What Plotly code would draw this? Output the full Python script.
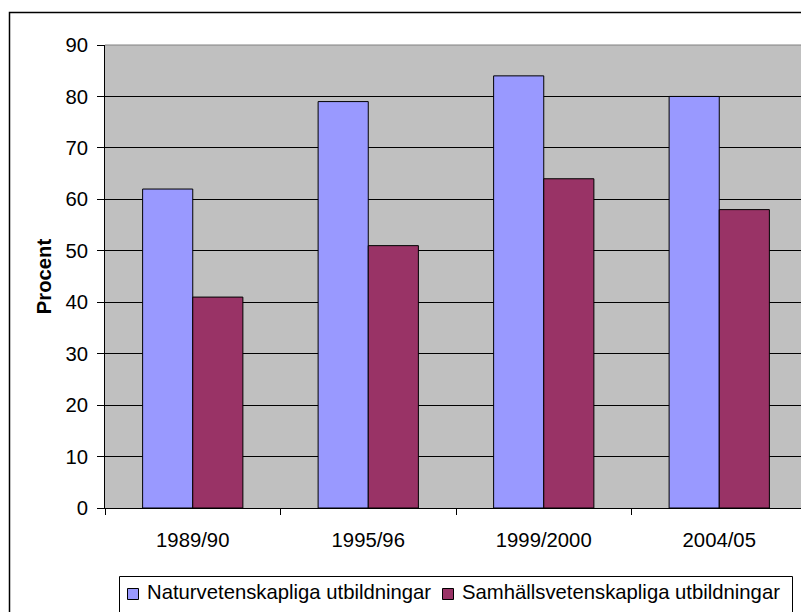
import plotly.graph_objects as go

categories = ["1989/90", "1995/96", "1999/2000", "2004/05"]
natur = [62, 79, 84, 80]
samhall = [41, 51, 64, 58]
series_names = ["Naturvetenskapliga utbildningar", "Samhällsvetenskapliga utbildningar"]
series_colors = ["#9999FF", "#993366"]
y_ticks = list(range(0, 91, 10))

FONT = "Liberation Sans, Arial, sans-serif"
FS = 20.3
OFF = 8  # page body margin
W, H = 809 - OFF, 612 - OFF
# plot area in page pixels: x 105..807, y 45..508
L, T = 105 - OFF, 45 - OFF
R = W - (807 - OFF)
B = H - (508 - OFF)
pw, ph = W - L - R, H - T - B

def px_x(x):  # page pixel -> paper
    return (x - OFF - L) / pw

def px_y(y):
    return (H - B - (y - OFF)) / ph

fig = go.Figure()
fig.add_trace(go.Bar(x=categories, y=natur, name=series_names[0],
                     marker=dict(color=series_colors[0], line=dict(color="black", width=1))))
fig.add_trace(go.Bar(x=categories, y=samhall, name=series_names[1],
                     marker=dict(color=series_colors[1], line=dict(color="black", width=1))))

shapes = [
    dict(type="line", xref="paper", yref="paper", x0=0, x1=1, y0=1, y1=1,
         line=dict(color="#808080", width=1)),
    dict(type="line", xref="paper", yref="paper", x0=1, x1=1, y0=0, y1=1,
         line=dict(color="#808080", width=1)),
    # outer chart frame (right/bottom edges fall outside the image)
    dict(type="rect", xref="paper", yref="paper",
         x0=px_x(9.5), x1=px_x(830), y0=px_y(640), y1=px_y(12.5),
         line=dict(color="black", width=1.5), layer="below"),
    # legend box
    dict(type="rect", xref="paper", yref="paper",
         x0=px_x(119.5), x1=px_x(792.5), y0=px_y(640), y1=px_y(576.5),
         line=dict(color="black", width=1), fillcolor="white", layer="below"),
]
annotations = []
sym_x = [127.5, 442.5]
txt_x = [145, 460]
for i in range(2):
    shapes.append(dict(type="rect", xref="paper", yref="paper",
                       x0=px_x(sym_x[i]), x1=px_x(sym_x[i] + 11),
                       y0=px_y(599.5), y1=px_y(588.5),
                       line=dict(color="black", width=1), fillcolor=series_colors[i]))
    annotations.append(dict(text=series_names[i], xref="paper", yref="paper",
                            x=px_x(txt_x[i]), y=px_y(592), xanchor="left", yanchor="middle",
                            showarrow=False, font=dict(family=FONT, size=FS, color="black")))

fig.update_layout(
    width=W, height=H,
    margin=dict(l=L, r=R, t=T, b=B, autoexpand=False),
    paper_bgcolor="white", plot_bgcolor="#C0C0C0",
    font=dict(family=FONT, size=FS, color="black"),
    barmode="group", bargap=1.5 / 3.5, bargroupgap=0,
    showlegend=False,
    xaxis=dict(type="category", tickson="boundaries", ticks="outside", ticklen=6,
               tickcolor="black", showline=True, linecolor="black", linewidth=1,
               showgrid=False, tickfont=dict(size=FS), ticklabelstandoff=14),
    yaxis=dict(range=[0, 90], tickvals=y_ticks, ticks="outside", ticklen=7,
               tickcolor="black", showline=True, linecolor="black", linewidth=1,
               showgrid=True, gridcolor="black", gridwidth=1, zeroline=False,
               tickfont=dict(size=FS), ticklabelstandoff=5,
               title=dict(text="<b>Procent</b>", font=dict(size=FS), standoff=8)),
    shapes=shapes,
    annotations=annotations,
)

fig.write_html("out.html")
